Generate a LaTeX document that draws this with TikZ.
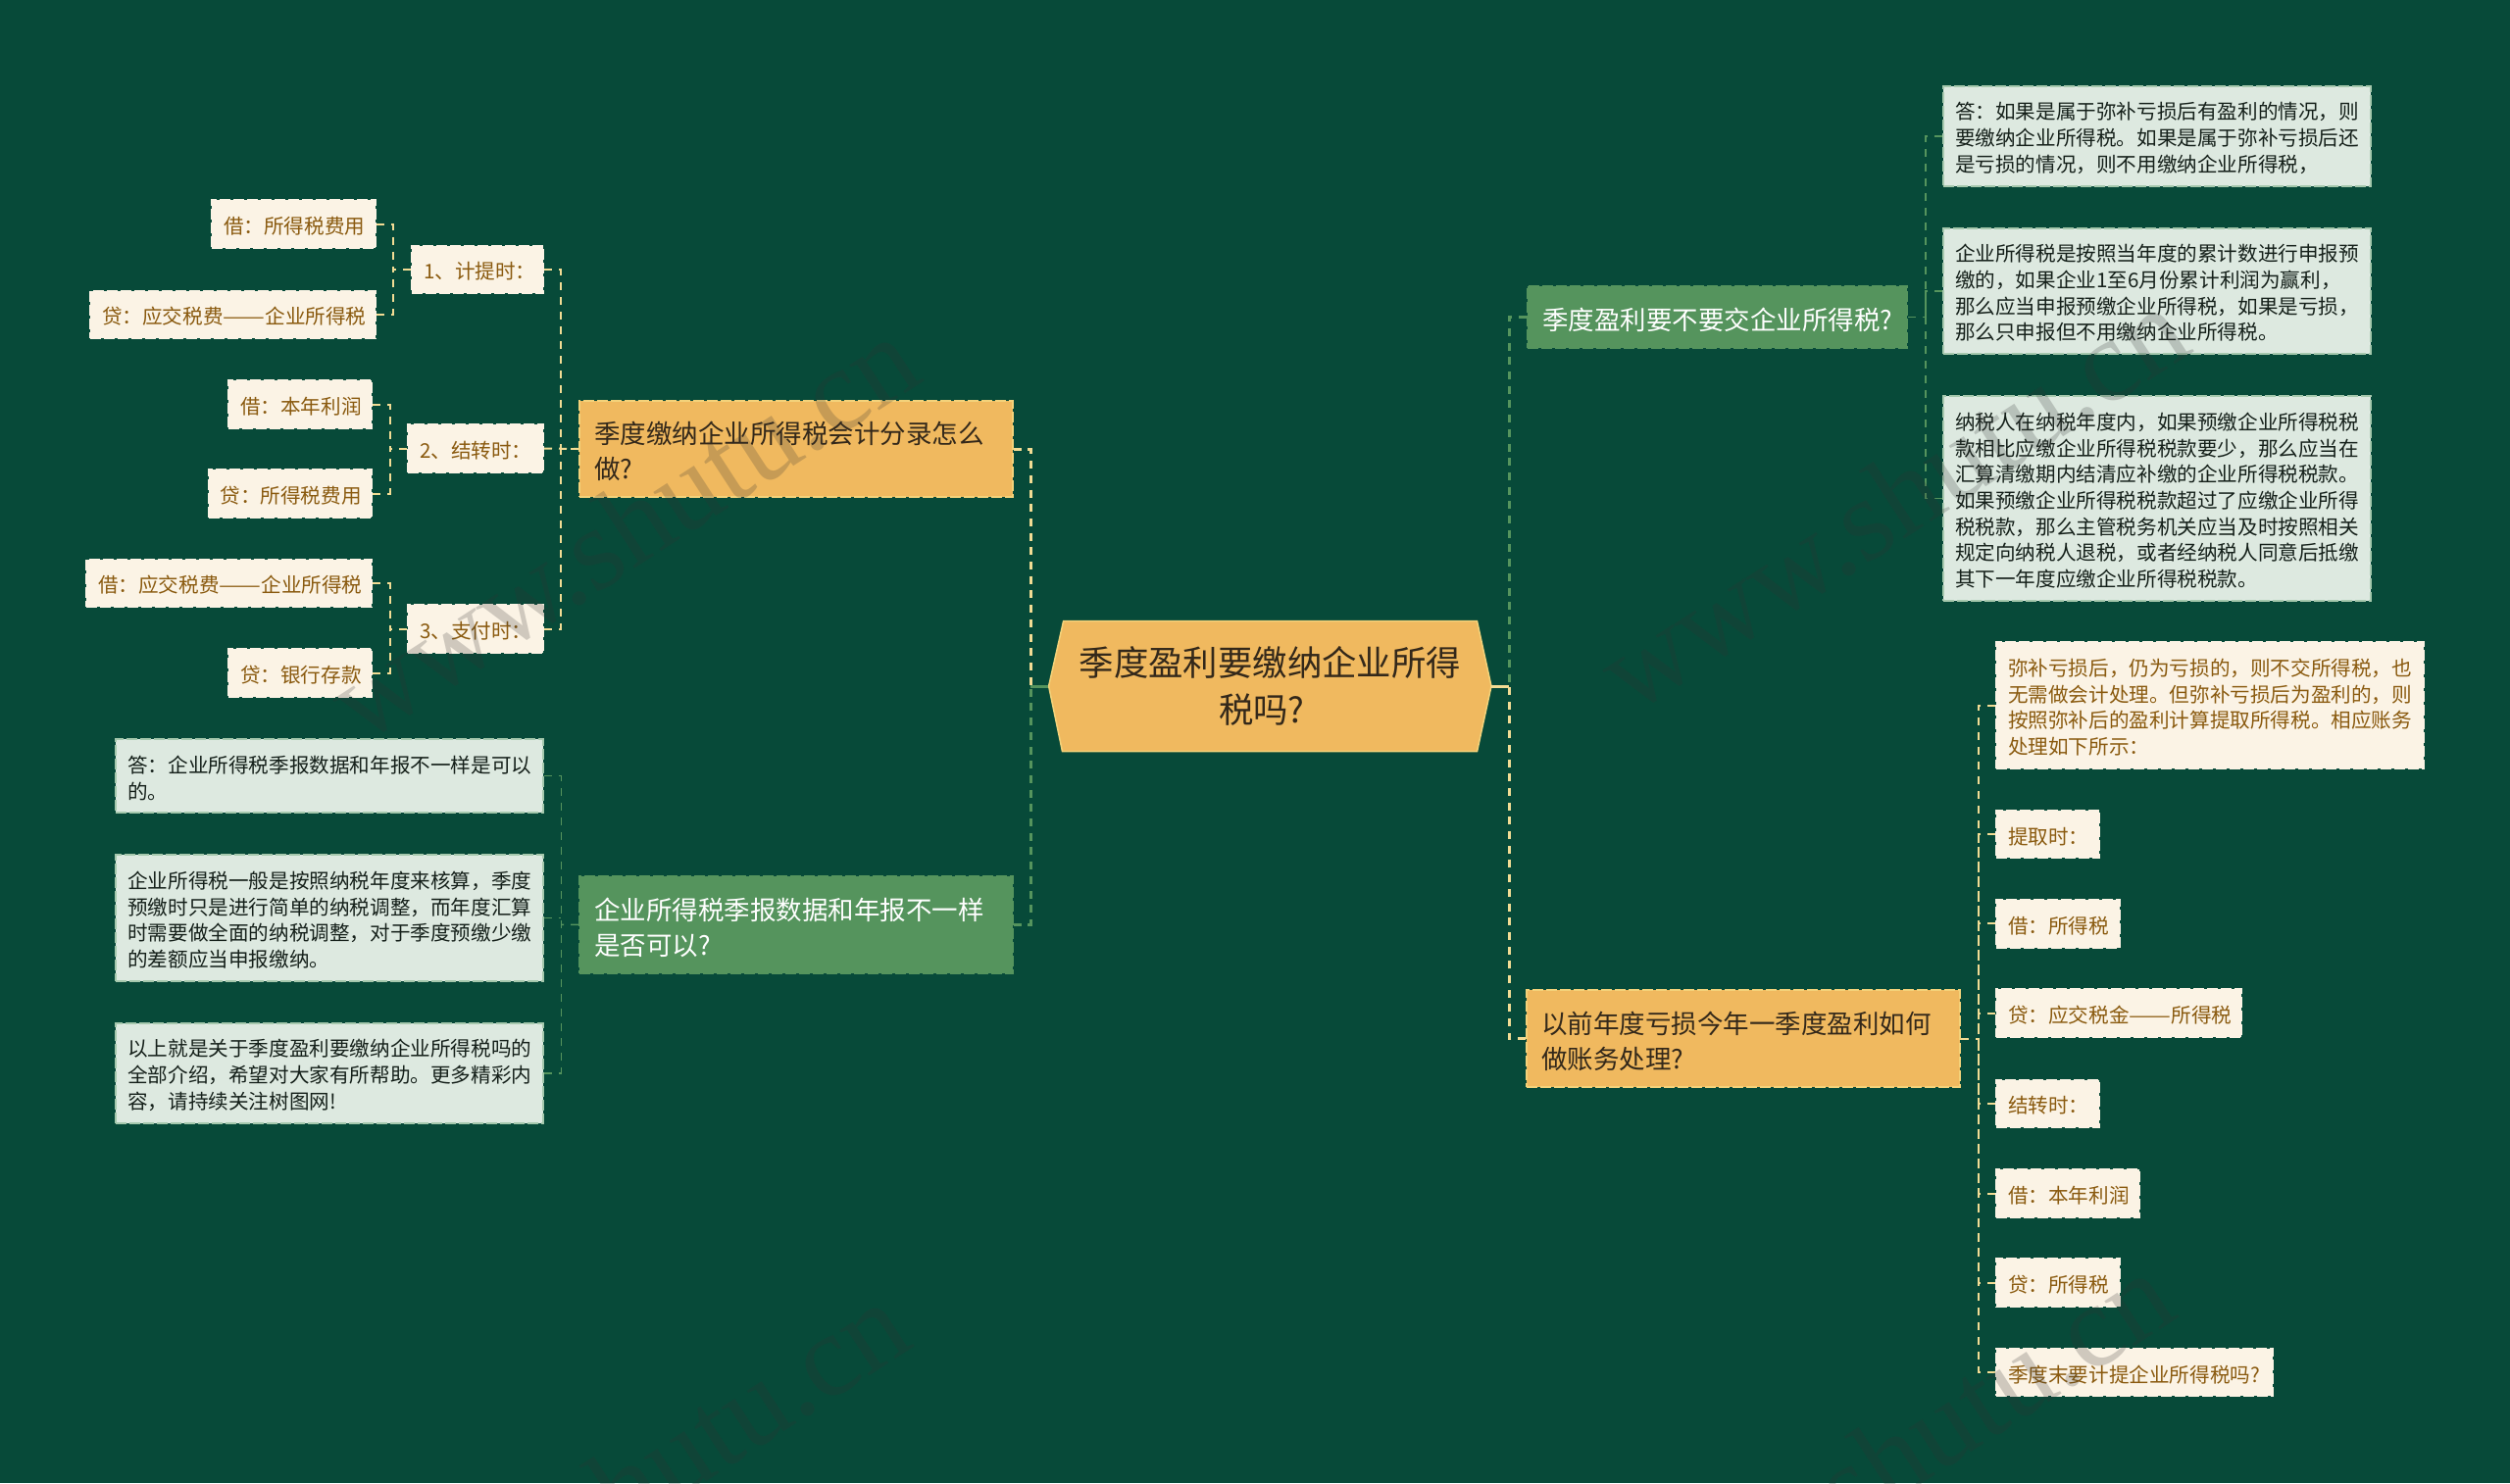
\documentclass[tikz,border=0pt]{standalone}
\usepackage{graphicx}
\usepackage{fontspec}
\setmainfont{Noto Sans CJK SC}
\newfontfamily\wmfont{Liberation Serif}
\newcommand{\zc}{\char"FF0C\relax}
\newcommand{\zk}{\char"FF1A\relax}
\newcommand{\zd}{\scalebox{1.24}[1]{\char"2014\char"2014}}
\definecolor{bgc}{HTML}{074A39}
\definecolor{orangec}{HTML}{F0B95F}
\definecolor{orangeb}{HTML}{F3D27A}
\definecolor{greenc}{HTML}{55945D}
\definecolor{paleb}{HTML}{A5C8AD}
\definecolor{palegreen}{HTML}{DDE9E0}
\definecolor{creamc}{HTML}{FBF3E5}
\definecolor{brownt}{HTML}{8A5A0F}
\definecolor{darkt}{HTML}{33281A}
\definecolor{blackt}{HTML}{15201A}
\definecolor{linec}{HTML}{F2DC94}
\definecolor{markc}{HTML}{333333}
\tikzset{
  basebox/.style={inner sep=0pt,line width=2pt,dash pattern=on 11pt off 3pt,align=left,anchor=center,execute at begin node={\rule{0pt}{1.05em}}},
  bigfont/.style={font=\fontsize{26.5}{36}\selectfont},
  smallfont/.style={font=\fontsize{20.6}{26.67}\selectfont},
  orangebox/.style={basebox,bigfont,fill=orangec,draw=orangeb,text=darkt},
  greenbox/.style={basebox,bigfont,fill=greenc,draw=greenc,text=white},
  palebox/.style={basebox,smallfont,fill=palegreen,draw=paleb,text=blackt},
  creambox/.style={basebox,smallfont,fill=creamc,draw=creamc,text=brownt},
  mainlink/.style={line width=3pt,dash pattern=on 8pt off 6.7pt},
  leaflink/.style={line width=2pt,dash pattern=on 8pt off 7pt},
  creamlink/.style={leaflink,draw=linec},
  palelink/.style={leaflink,draw=greenc,line width=1.6pt},
  wm/.style={font=\wmfont\fontsize{120}{120}\selectfont,text=markc,opacity=.22,rotate=33,inner sep=0pt}
}
\newcommand{\bnode}[8]{%
  \pgfmathsetmacro\cxx{(#4+#6)/2}\pgfmathsetmacro\cyy{(#5+#7)/2}%
  \pgfmathsetmacro\ww{#6-#4}\pgfmathsetmacro\hh{#7-#5}\pgfmathsetmacro\tw{#6-#4-2*#3}%
  \node[#1,minimum width=\ww pt,minimum height=\hh pt,text width=\tw pt] (#2) at (\cxx,\cyy) {#8};}
\begin{document}
\begin{tikzpicture}[x=1pt,y=-1pt]
\useasboundingbox (0,0) rectangle (2560,1513);
\fill[bgc] (0,0) rectangle (2560,1513);

% root shape and its text
\filldraw[fill=orangec,draw=orangeb,line width=1.5pt] (1069.6,700) -- (1084.6,633.7) -- (1506.5,633.7) -- (1521,700) -- (1506.5,766.7) -- (1083.5,766.7) -- cycle;
\node[inner sep=0pt,minimum width=451.4pt,minimum height=133pt,align=center,text=darkt,font=\fontsize{35.4}{48}\selectfont] (root) at (1295.3,700) {季度盈利要缴纳企业所得\\税吗?\hspace*{17pt}};

% branches
\bnode{orangebox}{b1}{15}{591}{409}{1032.7}{507}{季度缴纳企业所得税会计分录怎么\\做?}
\bnode{greenbox}{b2}{15}{591}{894}{1032.7}{992.7}{企业所得税季报数据和年报不一样\\是否可以?}
\bnode{greenbox}{b3}{15}{1558}{292}{1945.4}{355}{季度盈利要不要交企业所得税?}
\bnode{orangebox}{b4}{15}{1557}{1010}{1999}{1109}{以前年度亏损今年一季度盈利如何\\做账务处理?}

% left upper
\bnode{creambox}{c1}{12}{420}{251}{554}{299}{1、计提时\zk{}}
\bnode{creambox}{c2}{12}{416}{433}{554}{482}{2、结转时\zk{}}
\bnode{creambox}{c3}{12}{416}{617}{554}{666}{3、支付时\zk{}}
\bnode{creambox}{d1}{12}{216}{204}{383}{253}{借\zk{}所得税费用}
\bnode{creambox}{d2}{12}{92}{297}{383}{345}{贷\zk{}应交税费\zd{}企业所得税}
\bnode{creambox}{d3}{12}{233}{388}{379}{437}{借\zk{}本年利润}
\bnode{creambox}{d4}{12}{212.5}{479}{379}{528}{贷\zk{}所得税费用}
\bnode{creambox}{d5}{12}{88}{571}{379}{619}{借\zk{}应交税费\zd{}企业所得税}
\bnode{creambox}{d6}{12}{233}{662}{379}{711}{贷\zk{}银行存款}

% left lower
\bnode{palebox}{e1}{12}{118.3}{754}{553.7}{829.3}{答\zk{}企业所得税季报数据和年报不一样是可以\\的。}
\bnode{palebox}{e2}{12}{118.3}{872.3}{553.7}{1000.7}{企业所得税一般是按照纳税年度来核算\zc{}季度\\预缴时只是进行简单的纳税调整\zc{}而年度汇算\\时需要做全面的纳税调整\zc{}对于季度预缴少缴\\的差额应当申报缴纳。}
\bnode{palebox}{e3}{12}{118.3}{1043.7}{553.7}{1146}{以上就是关于季度盈利要缴纳企业所得税吗的\\全部介绍\zc{}希望对大家有所帮助。更多精彩内\\容\zc{}请持续关注树图网!}

% right upper
\bnode{palebox}{f1}{12}{1982}{88}{2418}{189.6}{答\zk{}如果是属于弥补亏损后有盈利的情况\zc{}则\\要缴纳企业所得税。如果是属于弥补亏损后还\\是亏损的情况\zc{}则不用缴纳企业所得税\zc{}}
\bnode{palebox}{f2}{12}{1982}{232.5}{2418}{361}{企业所得税是按照当年度的累计数进行申报预\\缴的\zc{}如果企业1至6月份累计利润为赢利\zc{}\\那么应当申报预缴企业所得税\zc{}如果是亏损\zc{}\\那么只申报但不用缴纳企业所得税。}
\bnode{palebox}{f3}{12}{1982}{404}{2418}{613}{纳税人在纳税年度内\zc{}如果预缴企业所得税税\\款相比应缴企业所得税税款要少\zc{}那么应当在\\汇算清缴期内结清应补缴的企业所得税税款。\\如果预缴企业所得税税款超过了应缴企业所得\\税税款\zc{}那么主管税务机关应当及时按照相关\\规定向纳税人退税\zc{}或者经纳税人同意后抵缴\\其下一年度应缴企业所得税税款。}

% right lower
\bnode{creambox}{g1}{12}{2036}{655}{2471.7}{784}{弥补亏损后\zc{}仍为亏损的\zc{}则不交所得税\zc{}也\\无需做会计处理。但弥补亏损后为盈利的\zc{}则\\按照弥补后的盈利计算提取所得税。相应账务\\处理如下所示\zk{}}
\bnode{creambox}{g2}{12}{2036}{826.7}{2141}{875.3}{提取时\zk{}}
\bnode{creambox}{g3}{12}{2036}{917.7}{2162}{966.7}{借\zk{}所得税}
\bnode{creambox}{g4}{12}{2036}{1009.3}{2285.7}{1058.3}{贷\zk{}应交税金\zd{}所得税}
\bnode{creambox}{g5}{12}{2036}{1101.7}{2141}{1150}{结转时\zk{}}
\bnode{creambox}{g6}{12}{2036}{1193.3}{2182}{1241.7}{借\zk{}本年利润}
\bnode{creambox}{g7}{12}{2036}{1284}{2162}{1333.3}{贷\zk{}所得税}
\bnode{creambox}{g8}{12}{2036}{1376}{2317.7}{1424.3}{季度末要计提企业所得税吗?}

% bus points
\coordinate (busL) at (1051,700);
\coordinate (busR) at (1539,700);
\coordinate (busA) at (572,458);
\coordinate (busC1) at (401,275);
\coordinate (busC2) at (397.5,457.5);
\coordinate (busC3) at (397.5,641.5);
\coordinate (busB) at (572.3,943.3);
\coordinate (busF) at (1964,323.5);
\coordinate (busG) at (2017.7,1059.5);

% root connectors
\draw[draw=greenc,line width=3pt] (root.west) -- (busL);
\draw[draw=linec,line width=3pt] (root.east) -- (busR);
\draw[mainlink,draw=linec] (b1.east) -| (busL);
\draw[mainlink,draw=greenc] (b2.east) -| (busL);
\draw[mainlink,draw=greenc] (b3.west) -| (busR);
\draw[mainlink,draw=linec] (b4.west) -| (busR);

% second level
\draw[creamlink] (b1.west) -- (busA);
\draw[creamlink] (c1.east) -| (busA);
\draw[creamlink] (c2.east) -- (b1.west);
\draw[creamlink] (c3.east) -| (busA);
\draw[creamlink] (c1.west) -- (busC1);
\draw[creamlink] (d1.east) -| (busC1);
\draw[creamlink] (d2.east) -| (busC1);
\draw[creamlink] (c2.west) -- (busC2);
\draw[creamlink] (d3.east) -| (busC2);
\draw[creamlink] (d4.east) -| (busC2);
\draw[creamlink] (c3.west) -- (busC3);
\draw[creamlink] (d5.east) -| (busC3);
\draw[creamlink] (d6.east) -| (busC3);

\draw[palelink] (b2.west) -- (busB);
\draw[palelink] (e1.east) -| (busB);
\draw[palelink] (e2.east) -- (busB |- e2.east);
\draw[palelink] (e3.east) -| (busB);

\draw[palelink] (b3.east) -- (busF);
\draw[palelink] (f1.west) -| (busF);
\draw[palelink] (f2.west) -| (busF);
\draw[palelink] (f3.west) -| (busF);

\draw[creamlink] (b4.east) -- (busG);
\foreach \k in {g1,g2,g3,g4,g5,g6,g7,g8} {\draw[creamlink] (\k.west) -| (busG);}

% faint site marks
\node[wm] (w1) at (635,540) {www.shutu.cn};
\node[wm] (w2) at (1930,510) {www.shutu.cn};
\node[wm] (w3) at (625,1525) {www.shutu.cn};
\node[wm] (w4) at (1915,1495) {www.shutu.cn};
\end{tikzpicture}
\end{document}
